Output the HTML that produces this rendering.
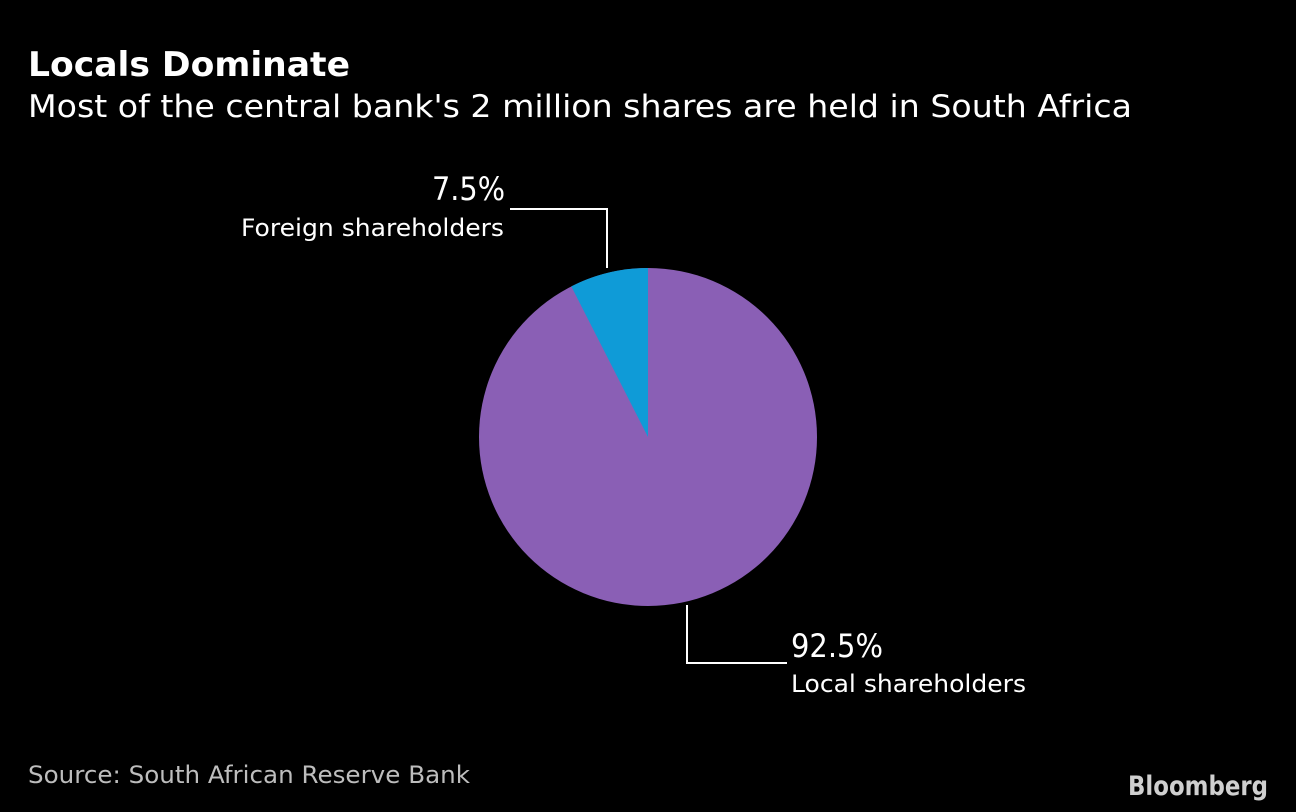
<!DOCTYPE html>
<html><head><meta charset="utf-8"><style>
html,body{margin:0;padding:0;background:#000;}
svg{display:block;}
text{font-family:"DejaVu Sans","Liberation Sans",sans-serif;fill:#fff;}
</style></head><body>
<svg width="1296" height="812" viewBox="0 0 1296 812" xmlns="http://www.w3.org/2000/svg">
<rect width="1296" height="812" fill="#000"/>
<text x="28" y="76" font-size="34" font-weight="bold" textLength="322" lengthAdjust="spacingAndGlyphs">Locals Dominate</text>
<text x="28" y="117" font-size="31" textLength="1104" lengthAdjust="spacingAndGlyphs">Most of the central bank's 2 million shares are held in South Africa</text>
<circle cx="648" cy="437" r="169" fill="#8a5fb5"/>
<path d="M648,437 L648,268 A169,169 0 0 0 571.3,286.4 Z" fill="#0f9bd7"/>
<polyline points="607,268 607,209 510,209" fill="none" stroke="#fff" stroke-width="2"/>
<polyline points="687,605 687,663 787,663" fill="none" stroke="#fff" stroke-width="2"/>
<text x="432" y="200" font-size="32" textLength="73" lengthAdjust="spacingAndGlyphs">7.5%</text>
<text x="241" y="236" font-size="24" textLength="263" lengthAdjust="spacingAndGlyphs">Foreign shareholders</text>
<text x="791" y="657" font-size="32" textLength="92" lengthAdjust="spacingAndGlyphs">92.5%</text>
<text x="791" y="692" font-size="24" textLength="235" lengthAdjust="spacingAndGlyphs">Local shareholders</text>
<text x="28" y="783" font-size="24" fill="#bbb" style="fill:#bdbdbd" textLength="442" lengthAdjust="spacingAndGlyphs">Source: South African Reserve Bank</text>
<text x="1128" y="795" font-size="27" font-weight="bold" style="fill:#cfcfcf" textLength="140" lengthAdjust="spacingAndGlyphs">Bloomberg</text>
</svg>
</body></html>
